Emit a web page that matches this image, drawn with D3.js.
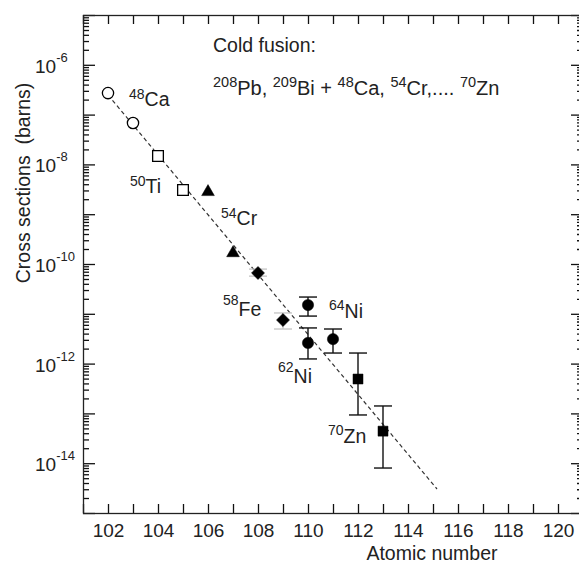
<!DOCTYPE html>
<html>
<head>
<meta charset="utf-8">
<script src="https://cdn.jsdelivr.net/npm/d3@7"></script>
<style>
  body { margin: 0; background: #fff; }
  svg { display: block; font-family: "Liberation Sans", Arial, sans-serif; }
</style>
</head>
<body>
<script>
// cross sections (barns), per projectile group
const caZ = [102, 103], caSigma = [2.7e-7, 6.8e-8]
const tiZ = [104, 105], tiSigma = [1.48e-8, 3.06e-9]
const crZ = [106, 107], crSigma = [2.8e-9, 1.66e-10]
const feZ = [108, 109], feSigma = [6.6e-11, 7.5e-12]
const feHi = [7.9e-11, 1.04e-11], feLo = [5.7e-11, 4.95e-12]
const niZ = [110, 110, 111], niSigma = [1.5e-11, 2.6e-12, 3.1e-12]
const niHi = [2.17e-11, 5.2e-12, 4.95e-12], niLo = [9.0e-12, 1.24e-12, 1.63e-12]
const znZ = [112, 113], znSigma = [4.9e-13, 4.4e-14]
const znHi = [1.63e-12, 1.41e-13], znLo = [9.3e-14, 8.0e-15]

// dashed systematics line (two end points)
const fitZ = [102, 115.16], fitSigma = [Math.pow(10, -6.606), Math.pow(10, -14.518)]

// axes
const xTicks = d3.range(101, 122)
const xLabels = [102, 104, 106, 108, 110, 112, 114, 116, 118, 120]
const yDecades = d3.range(-15, -4)
const yLabelExp = [-6, -8, -10, -12, -14]

// isotope labels anchored in data space
const isoLabels = [
    { sup: "48", el: "Ca", z: 102.84, lg: -6.827, raise: 7 },
    { sup: "50", el: "Ti", z: 102.88, lg: -8.574, raise: 7 },
    { sup: "54", el: "Cr", z: 106.52, lg: -9.217, raise: 7 },
    { sup: "58", el: "Fe", z: 106.6, lg: -11.044, raise: 11 },
    { sup: "64", el: "Ni", z: 110.84, lg: -11.084, raise: 8 },
    { sup: "62", el: "Ni", z: 108.8, lg: -12.39, raise: 11 },
    { sup: "70", el: "Zn", z: 110.8, lg: -13.594, raise: 8 }
]

const width = 579, height = 563
const mLeft = 83, mTop = 15, mRight = 583, mBottom = 513

let svg = d3.select("body").append("svg")
    .attr("xmlns", "http://www.w3.org/2000/svg")
    .attr("width", width).attr("height", height)

let x = d3.scaleLinear().domain([101, 121]).range([mLeft, mRight])
let y = d3.scaleLog().domain([1e-15, 1e-5]).range([mBottom, mTop])

let yMajor = yDecades.map(e => Math.pow(10, e))
let yMinor = []
for (let e = -15; e < -5; e++) {
    for (let m = 2; m <= 9; m++) yMinor.push(m * Math.pow(10, e))
}

// y tick labels 10^n
let yl = svg.append("g").attr("fill", "#222")
yLabelExp.forEach(e => {
    let t = yl.append("text")
        .attr("x", 35).attr("y", y(Math.pow(10, e)) + 8)
        .attr("font-size", 19)
    t.append("tspan").text("10")
    t.append("tspan").attr("dy", -11).attr("font-size", 13).text("-" + Math.abs(e))
})

// axis titles
svg.append("text")
    .attr("transform", "translate(30," + 183 + ") rotate(-90)")
    .attr("text-anchor", "middle").attr("font-size", 19.5).attr("fill", "#222")
    .attr("xml:space", "preserve")
    .text("Cross sections  (barns)")
svg.append("text")
    .attr("x", 432).attr("y", 560)
    .attr("text-anchor", "middle").attr("font-size", 19.5).attr("fill", "#222")
    .text("Atomic number")

// header text
svg.append("text").attr("x", 213).attr("y", 52)
    .attr("font-size", 19.5).attr("fill", "#222").text("Cold fusion:")
let hdr = svg.append("text").attr("x", 213).attr("y", 95)
    .attr("font-size", 20).attr("fill", "#222").attr("xml:space", "preserve")
const hdrParts = [["208", "Pb, "], ["209", "Bi + "], ["48", "Ca, "], ["54", "Cr,.... "], ["70", "Zn"]]
hdrParts.forEach(p => {
    hdr.append("tspan").attr("font-size", 14.5).attr("dy", -8).text(p[0])
    hdr.append("tspan").attr("dy", 8).text(p[1])
})

// dashed line
let line = d3.line().x(d => x(d[0])).y(d => y(d[1]))
svg.append("path")
    .attr("d", line(d3.zip(fitZ, fitSigma)))
    .attr("fill", "none").attr("stroke", "#333").attr("stroke-width", 1.2)
    .attr("stroke-dasharray", "4,3")

// error bars
function drawErrors(zs, hi, lo, color) {
    let g = svg.append("g").attr("stroke", color).attr("stroke-width", 1.4)
    for (let i = 0; i < zs.length; i++) {
        let cx = x(zs[i])
        g.append("line").attr("x1", cx).attr("x2", cx).attr("y1", y(hi[i])).attr("y2", y(lo[i]))
        g.append("line").attr("x1", cx - 9).attr("x2", cx + 9).attr("y1", y(hi[i])).attr("y2", y(hi[i]))
        g.append("line").attr("x1", cx - 9).attr("x2", cx + 9).attr("y1", y(lo[i])).attr("y2", y(lo[i]))
    }
}
drawErrors(feZ, feHi, feLo, "#c8c8c8")
drawErrors(niZ, niHi, niLo, "#111")
drawErrors(znZ, znHi, znLo, "#111")

// markers
function drawMarkers(zs, sig, type, size, filled, rotate) {
    let sym = d3.symbol().type(type).size(size)
    svg.append("g").selectAll("path").data(d3.zip(zs, sig)).enter().append("path")
        .attr("d", sym)
        .attr("transform", d => "translate(" + x(d[0]) + "," + y(d[1]) + ")" + (rotate ? " rotate(45)" : ""))
        .attr("fill", filled ? "#000" : "#fff")
        .attr("stroke", "#000").attr("stroke-width", filled ? 0.5 : 1.3)
}
drawMarkers(caZ, caSigma, d3.symbolCircle, 100, false)
drawMarkers(tiZ, tiSigma, d3.symbolSquare, 115, false)
drawMarkers(crZ, crSigma, d3.symbolTriangle, 70, true)
drawMarkers(feZ, feSigma, d3.symbolSquare, 85, true, true)
drawMarkers(niZ, niSigma, d3.symbolCircle, 100, true)
drawMarkers(znZ, znSigma, d3.symbolSquare, 100, true)

// isotope labels
let lab = svg.append("g").attr("fill", "#222")
isoLabels.forEach(d => {
    let t = lab.append("text").attr("x", x(d.z)).attr("y", y(Math.pow(10, d.lg)))
        .attr("font-size", 19.5)
    t.append("tspan").attr("font-size", 14).attr("dy", -d.raise).text(d.sup)
    t.append("tspan").attr("dy", d.raise).text(d.el)
})

// axes drawn last so nothing sits over the ticks
function styleAxis(g) {
    g.select(".domain").remove()
    g.selectAll(".tick line").attr("stroke", "#111").attr("stroke-width", 1.3)
}

// bottom / top x axes, ticks inward
svg.append("g").attr("transform", "translate(0," + mBottom + ")")
    .call(d3.axisBottom(x).tickValues(xTicks).tickSize(-9).tickSizeOuter(0)
        .tickPadding(11).tickFormat(d => xLabels.includes(d) ? d : ""))
    .call(styleAxis)
    .selectAll("text").attr("font-size", 19).attr("fill", "#222")
        .attr("font-family", "Liberation Sans, Arial, sans-serif")
svg.append("g").attr("transform", "translate(0," + mTop + ")")
    .call(d3.axisTop(x).tickValues(xTicks).tickSize(-9).tickSizeOuter(0).tickFormat(""))
    .call(styleAxis)

// left / right log axes, major and minor ticks
svg.append("g").attr("transform", "translate(" + mLeft + ",0)")
    .call(d3.axisLeft(y).tickValues(yMajor).tickSize(-12).tickSizeOuter(0).tickFormat(""))
    .call(styleAxis)
svg.append("g").attr("transform", "translate(" + mLeft + ",0)")
    .call(d3.axisLeft(y).tickValues(yMinor).tickSize(-6).tickSizeOuter(0).tickFormat(""))
    .call(styleAxis)
svg.append("g").attr("transform", "translate(" + mRight + ",0)")
    .call(d3.axisRight(y).tickValues(yMajor).tickSize(-12).tickSizeOuter(0).tickFormat(""))
    .call(styleAxis)
svg.append("g").attr("transform", "translate(" + mRight + ",0)")
    .call(d3.axisRight(y).tickValues(yMinor).tickSize(-6).tickSizeOuter(0).tickFormat(""))
    .call(styleAxis)

// frame
svg.append("rect")
    .attr("x", mLeft + 0.5).attr("y", mTop + 0.5)
    .attr("width", mRight - mLeft).attr("height", mBottom - mTop)
    .attr("fill", "none").attr("stroke", "#222").attr("stroke-width", 1.3)
</script>
</body>
</html>
